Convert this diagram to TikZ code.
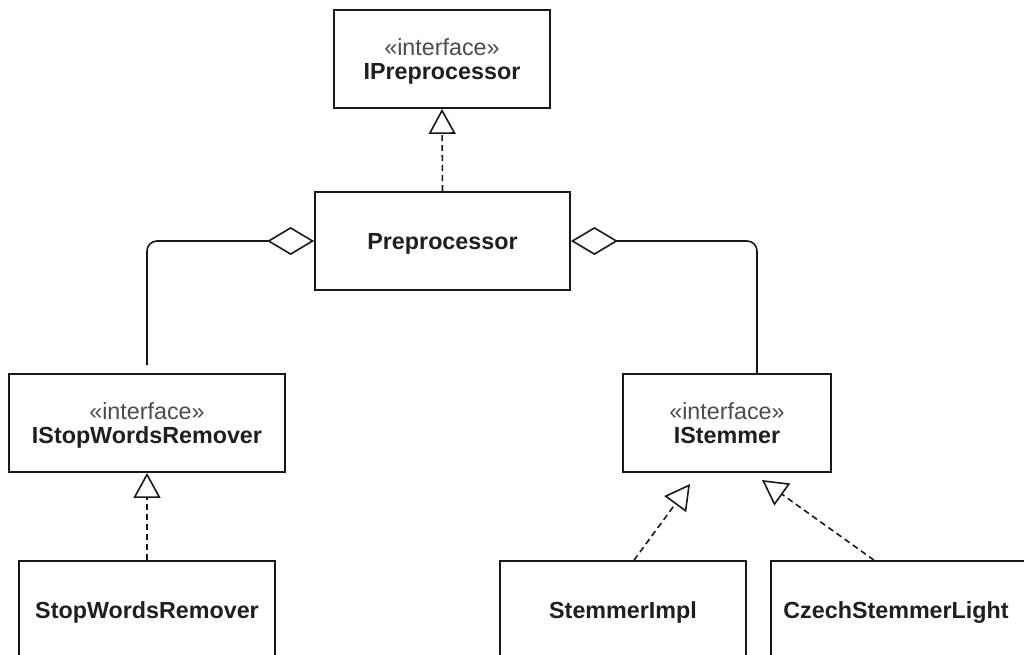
\documentclass[tikz,border=0pt]{standalone}
\usepackage{fontspec}
\setmainfont{Liberation Sans}
\usetikzlibrary{arrows.meta}
\begin{document}
\begin{tikzpicture}[x=1pt,y=-1pt,
  box/.style={draw=black!90, line width=1.8pt, fill=white,
    minimum width=#1, minimum height=98pt, inner sep=0pt, text depth=0pt,
    font=\fontsize{23.3}{24.5}\selectfont, text=black!88, align=center},
  assoc/.style={draw=black!90, line width=1.6pt, rounded corners=10pt,
    {Diamond[open, length=47pt, width=28pt, line width=1.6pt]}-},
  realize/.style={draw=black!90, line width=1.6pt, dash pattern=on 6pt off 4pt,
    -{Triangle[open, length=25pt, width=27pt, line width=1.6pt]}},
]
% page frame
\clip (0,0) rectangle (1024,654);
\fill[white] (0,0) rectangle (1024,654);

\newcommand{\stereotype}[1]{{\color{black!70}«interface»}\\\textbf{#1}}

% interfaces
\node[box=216pt] (ipre) at (442,59) {\stereotype{IPreprocessor}};
\node[box=276pt] (isw)  at (147,423) {\stereotype{IStopWordsRemover}};
\node[box=208pt] (ist)  at (727,423) {\stereotype{IStemmer}};

% classes
\node[box=255pt] (pre)   at (442.5,241) {\textbf{Preprocessor}};
\node[box=256pt] (sw)    at (147,610) {\textbf{StopWordsRemover}};
\node[box=246pt] (simpl) at (623,610) {\textbf{StemmerImpl}};
\node[box=270pt, anchor=west, text width=245pt, align=left] (czech) at (770,610) {\textbf{CzechStemmerLight}};

% free ends of connectors
\coordinate (swEnd) at (147,365);
\coordinate (stEnd) at (757,374);
\coordinate (tipA) at (690,484);
\coordinate (tipB) at (762,480);

% aggregations
\draw[assoc] (pre.west) -| (swEnd);
\draw[assoc] (pre.east) -| (stEnd);

% realizations
\draw[realize] (pre.north) -- (ipre.south);
\draw[realize] (sw.north) -- (isw.south);
\draw[realize] ([xshift=11pt]simpl.north) -- (tipA);
\draw[realize] ([xshift=-32pt]czech.north) -- (tipB);
\end{tikzpicture}
\end{document}
